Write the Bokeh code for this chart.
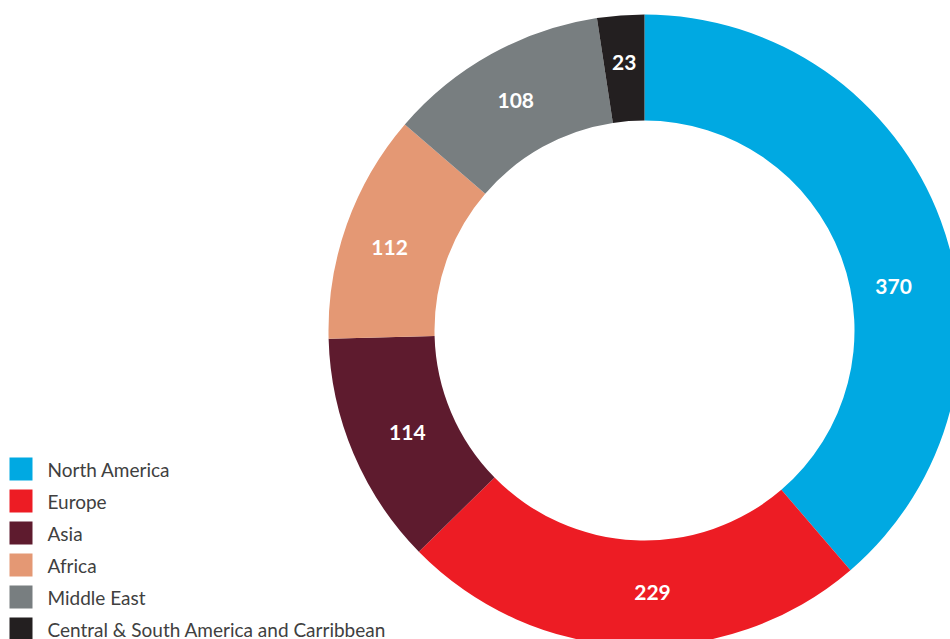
import math
from bokeh.plotting import figure
from bokeh.models import Range1d, ColumnDataSource
from bokeh.core.properties import value
from bokeh.embed import file_html
from bokeh.resources import INLINE

# ---- data ----
regions = ["North America", "Europe", "Asia", "Africa", "Middle East",
           "Central & South America and Carribbean"]
counts = [370, 229, 114, 112, 108, 23]
colors = ["#00A9E2", "#ED1C24", "#5E1B2E", "#E49874", "#787E80", "#231F20"]

# ---- layout (page pixel coords; y is negated page y) ----
W, H = 950, 639
CX, CY = 644, -330
R_OUT, R_IN = 316, 210

p = figure(width=W, height=H, output_backend="svg", toolbar_location=None,
           x_range=Range1d(0, W), y_range=Range1d(-H, 0),
           min_border=0, outline_line_color=None)
p.axis.visible = False
p.grid.visible = False
p.background_fill_color = "white"
p.border_fill_color = "white"

total = sum(counts)
starts, ends, lab_x, lab_y = [], [], [], []
cum = 0
# label placement: (angular offset from slice middle in degrees, radius)
label_pos = {0: (10.3, 253), 1: (-4.2, 262), 2: (-0.2, 258),
             3: (-1.6, 268), 4: (-0.2, 264), 5: (0.0, 269)}
for i, c in enumerate(counts):
    a0 = cum / total * 2 * math.pi
    cum += c
    a1 = cum / total * 2 * math.pi
    starts.append(math.pi / 2 - a0)
    ends.append(math.pi / 2 - a1)
    mid = (a0 + a1) / 2 + math.radians(label_pos[i][0])
    r = label_pos[i][1]
    lab_x.append(CX + r * math.sin(mid))
    lab_y.append(CY + r * math.cos(mid))

src = ColumnDataSource(dict(start=starts, end=ends, color=colors,
                            lx=lab_x, ly=lab_y, txt=[str(c) for c in counts]))
p.annular_wedge(x=CX, y=CY, inner_radius=R_IN, outer_radius=R_OUT,
                start_angle="start", end_angle="end", direction="clock",
                fill_color="color", line_color=None, source=src)
p.text(x="lx", y="ly", text="txt", source=src, text_color="white",
       text_font=value("Lato"), text_font_style="bold", text_font_size="21px",
       text_align="center", text_baseline="middle")

# ---- legend ----
leg_y = [-(468.5 + 32 * i) for i in range(len(regions))]
lsrc = ColumnDataSource(dict(y=leg_y, color=colors, name=regions))
p.rect(x=20.5, y="y", width=23, height=23, fill_color="color",
       line_color=None, source=lsrc)
p.text(x=47, y="y", text="name", source=lsrc, text_color="#404040",
       text_font=value("Lato"), text_font_size="19px",
       text_align="left", text_baseline="middle")

open("out.html", "w").write(file_html(p, INLINE))
